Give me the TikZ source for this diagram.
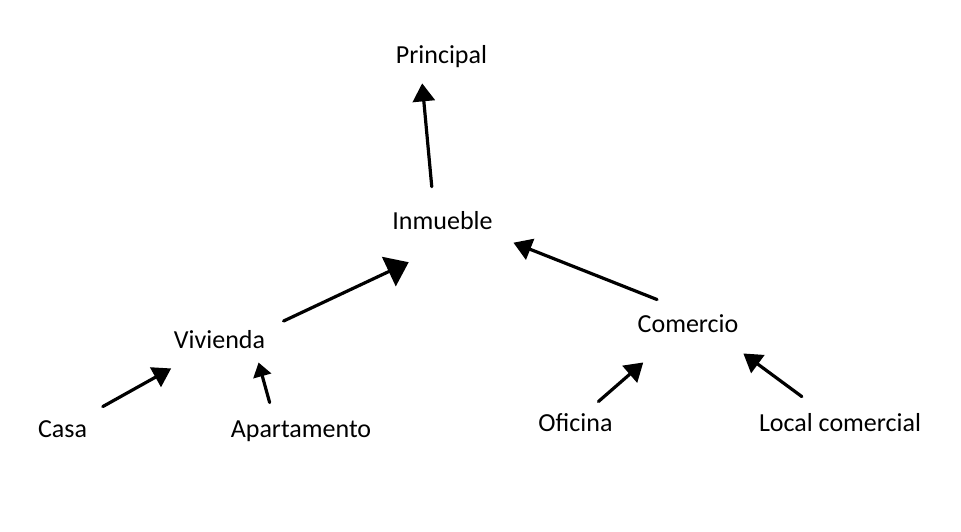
\documentclass[tikz,border=0pt]{standalone}
\usepackage{fontspec}
\setmainfont{Carlito}
\usepackage{tikz}
\usetikzlibrary{arrows.meta}

\begin{document}
\begin{tikzpicture}[x=0.5pt,y=-0.5pt]
	\tikzstyle{every node}=[font=\fontsize{13}{15}\selectfont]
	\tikzstyle{lbl}=[inner sep=0, text height=10pt, text depth=3pt, anchor=base]
	\tikzstyle{arr}=[-{Triangle[length=9pt,width=11pt]}, line width=1.6pt, line cap=round]
	\tikzstyle{arrbig}=[-{Triangle[length=11pt,width=16pt]}, line width=1.6pt, line cap=round]
	\tikzstyle{arrsmall}=[-{Triangle[length=7pt,width=9pt]}, line width=1.6pt, line cap=round]

	\useasboundingbox (0,0) rectangle (961,531);

	%%nodes
	\node [lbl] (prn) at (441.5,63) {Principal};
	\node [lbl] (inm) at (442.5,229) {Inmueble};
	\node [lbl] (viv) at (219.5,348) {Vivienda};
	\node [lbl] (com) at (688,332) {Comercio};
	\node [lbl] (cas) at (62.5,437) {Casa};
	\node [lbl] (apt) at (301,437) {Apartamento};
	\node [lbl] (ofi) at (575.5,431) {Oficina};
	\node [lbl] (loc) at (840,431) {Local comercial};

	%%arrows
	\draw [arr, shorten <=11pt, shorten >=7pt] (inm.123) -- (prn.213);
	\draw [arrbig, shorten <=10pt, shorten >=31.5pt] (viv.14) -- (inm.330);
	\draw [arr, shorten <=16.4pt, shorten >=11pt] (com.92) -- (inm.346);
	\draw [arr, shorten <=10.3pt, shorten >=14.4pt] (cas.31) -- (viv.210);
	\draw [arrsmall, shorten <=7.3pt, shorten >=4.2pt] (apt.154) -- (viv.340);
	\draw [arr, shorten <=6.9pt, shorten >=18.3pt] (ofi.47) -- (com.218);
	\draw [arr, shorten <=11.8pt, shorten >=12.7pt] (loc.145) -- (com.339);

\end{tikzpicture}
\end{document}
